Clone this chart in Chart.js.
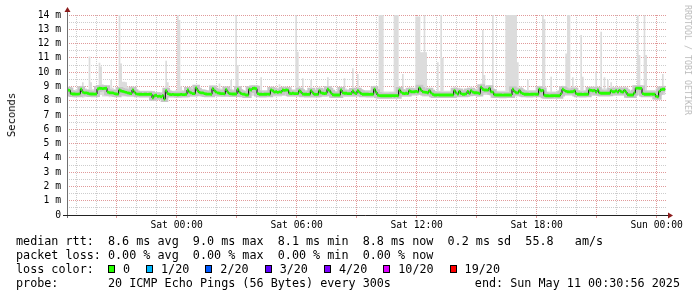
<!DOCTYPE html>
<html lang="en">
<head>
<meta charset="UTF-8">
<title>Smokeping</title>
<script src="https://cdn.jsdelivr.net/npm/chart.js"></script>
<style>
  body { margin: 0; background: #fff; width: 697px; height: 297px; overflow: hidden; position: relative;
         font-family: "DejaVu Sans Mono", monospace; color: #000; }
  #graph { position: absolute; left: 0; top: 0; }
  .ytitle { position: absolute; left: 11px; top: 115px; transform: translate(-50%, -50%) rotate(-90deg);
            font-size: 10.5px; white-space: nowrap; }
  .mark { position: absolute; left: 688px; top: 60px; transform: translate(-50%, -50%) rotate(90deg);
          font-size: 8.3px; color: #bbb; white-space: nowrap; }
  .leg { position: absolute; left: 16px; font-size: 11.75px; line-height: 14px; white-space: pre; }
  .box { display: inline-block; width: 5px; height: 6px; border: 1px solid #000; margin-right: 8px;
         position: relative; top: 0px; }
  .item { margin-right: 16px; }
</style>
</head>
<body>
<canvas id="graph" width="697" height="235"></canvas>
<div class="ytitle">Seconds</div>
<div class="mark">RRDTOOL / TOBI OETIKER</div>
<div class="leg" style="top:234px">median rtt:  8.6 ms avg  9.0 ms max  8.1 ms min  8.8 ms now  0.2 ms sd  55.8   am/s</div>
<div class="leg" style="top:248px">packet loss: 0.00 % avg  0.00 % max  0.00 % min  0.00 % now</div>
<div class="leg" style="top:262px" id="losscolor">loss color:  </div>
<div class="leg" style="top:276px">probe:       20 ICMP Echo Pings (56 Bytes) every 300s</div>
<div class="leg" style="top:276px; left:auto; right:17px">end: Sun May 11 00:30:56 2025</div>
<script>
// 5 minute steps, hours relative to Sat 00:00 (start Fri 18:30:56)
const startHour = -(5 + 29 / 60 + 4 / 3600);
const stepMin = 5;
const spanHours = 30;

// median rtt in ms, one row per hour
const median = [
  8.55,8.75,8.72,8.5,8.47,8.47,8.46,8.46,8.48,8.8,8.6,8.55,
  8.55,8.52,8.48,8.47,8.47,8.46,8.47,8.82,8.87,8.86,8.85,8.86,
  8.87,8.6,8.56,8.55,8.55,8.5,8.47,8.46,8.75,8.68,8.65,8.62,
  8.58,8.55,8.52,8.5,8.76,8.6,8.48,8.46,8.45,8.45,8.44,8.45,
  8.45,8.44,8.45,8.45,8.2,8.35,8.38,8.3,8.32,8.28,8.35,8.12,
  8.7,8.5,8.45,8.43,8.44,8.43,8.43,8.42,8.43,8.44,8.43,8.43,
  8.45,8.75,8.6,8.55,8.5,8.5,8.9,8.7,8.58,8.55,8.55,8.5,
  8.47,8.46,8.46,8.45,8.85,8.7,8.6,8.55,8.52,8.5,8.5,8.48,
  8.78,8.6,8.5,8.48,8.47,8.47,8.47,8.8,8.6,8.5,8.46,8.45,
  8.4,8.4,8.8,8.75,8.86,8.87,8.84,8.5,8.45,8.45,8.44,8.45,
  8.45,8.46,8.45,8.75,8.7,8.6,8.63,8.58,8.62,8.6,8.75,8.72,
  8.75,8.74,8.52,8.5,8.52,8.5,8.5,8.5,8.7,8.6,8.46,8.45,
  8.45,8.44,8.45,8.7,8.55,8.45,8.44,8.45,8.7,8.55,8.52,8.5,
  8.52,8.8,8.7,8.55,8.42,8.4,8.4,8.4,8.4,8.75,8.55,8.52,
  8.52,8.5,8.5,8.5,8.68,8.55,8.5,8.7,8.6,8.5,8.45,8.45,
  8.45,8.45,8.44,8.45,8.45,8.8,8.6,8.4,8.36,8.35,8.35,8.35,
  8.35,8.35,8.35,8.35,8.36,8.35,8.36,8.35,8.75,8.6,8.52,8.5,
  8.52,8.5,8.7,8.63,8.62,8.63,8.65,8.62,8.9,8.75,8.62,8.6,
  8.58,8.56,8.7,8.55,8.45,8.4,8.4,8.41,8.4,8.4,8.4,8.4,
  8.4,8.4,8.4,8.4,8.4,8.7,8.55,8.46,8.65,8.5,8.45,8.45,
  8.48,8.65,8.52,8.7,8.6,8.56,8.56,8.55,8.5,8.94,8.8,8.75,
  8.75,8.74,8.87,8.63,8.6,8.42,8.4,8.4,8.4,8.4,8.39,8.4,
  8.4,8.4,8.4,8.4,8.8,8.65,8.56,8.55,8.7,8.56,8.5,8.45,
  8.45,8.45,8.44,8.45,8.45,8.46,8.45,8.45,8.8,8.7,8.72,8.38,
  8.35,8.35,8.34,8.35,8.35,8.36,8.35,8.35,8.35,8.5,8.8,8.72,
  8.65,8.63,8.62,8.63,8.63,8.7,8.5,8.45,8.45,8.45,8.44,8.45,
  8.45,8.45,8.75,8.72,8.7,8.72,8.6,8.75,8.55,8.52,8.52,8.52,
  8.52,8.52,8.52,8.7,8.63,8.63,8.7,8.6,8.72,8.63,8.6,8.72,
  8.6,8.42,8.4,8.4,8.4,8.55,8.87,8.88,8.87,8.86,8.5,8.45,
  8.45,8.45,8.45,8.46,8.45,8.46,8.3,8.28,8.65,8.78,8.8,8.8
];

// slowest ping of each round (top of the smoke), ms
const smokeMax = [
  8.9,9.0,9.0,8.8,8.75,8.75,8.8,8.8,8.85,9.05,9.3,8.9,
  8.85,8.8,11.1,9.3,8.8,8.8,8.85,9.1,10.66,10.4,9.15,9.1,
  9.1,9.0,8.9,9.45,8.9,8.8,8.75,8.75,14,10.6,9.33,9.33,
  9.3,9.0,8.9,8.85,9.0,8.9,8.75,8.7,8.7,8.7,8.7,8.7,
  8.7,8.7,8.7,8.7,8.65,8.6,8.6,8.6,8.6,8.6,8.65,8.6,
  10.8,9.3,8.8,8.7,8.7,8.7,8.75,14,13.65,9.0,8.75,8.7,
  8.7,8.95,8.9,8.85,8.8,8.8,9.1,9.0,8.9,8.85,8.8,8.8,
  8.75,8.75,8.75,8.8,9.05,8.95,8.9,8.85,9.2,8.85,8.8,8.8,
  9.0,8.9,8.8,9.45,8.8,8.75,14,10.5,9.0,8.85,8.75,8.7,
  8.7,8.7,9.0,9.0,9.05,9.05,9.0,8.8,8.75,9.64,8.75,8.75,
  8.75,8.75,8.75,9.0,9.0,8.9,8.9,8.9,9.15,8.9,9.0,9.0,
  9.0,8.95,8.8,8.8,8.8,8.8,14,11.43,9.0,8.9,9.57,8.75,
  8.75,8.75,8.75,9.45,8.85,8.75,8.75,8.75,9.0,8.85,8.85,8.8,
  8.8,9.64,9.0,8.85,8.7,8.7,8.7,8.7,8.7,9.0,8.85,9.57,
  8.85,8.8,8.8,8.8,10.27,8.9,8.8,9.87,8.9,8.8,8.75,8.75,
  8.75,8.75,8.75,8.75,8.8,9.05,8.9,8.7,14,14,14,8.65,
  8.65,8.65,8.65,8.65,8.65,14,14,14,9.0,8.9,9.87,8.8,
  8.8,8.85,8.95,8.9,8.9,8.9,13.9,13.9,13.9,11.4,11.4,14,
  11.4,8.9,8.9,8.8,8.7,8.7,8.7,10.7,8.7,14,11.0,8.7,
  8.7,8.7,8.7,8.7,8.7,9.0,8.85,8.75,8.9,8.8,8.75,8.75,
  8.75,8.9,8.8,9.0,8.9,8.85,8.85,8.8,8.8,9.2,12.95,9.8,
  9.0,9.0,9.1,8.9,14,8.7,8.7,8.7,8.7,8.7,8.7,8.7,
  14,14,14,14,14,14,14,10.7,8.9,9.0,8.85,8.8,
  8.75,9.45,8.75,8.75,8.75,8.75,8.75,8.75,9.05,9.0,14,13.7,
  8.7,8.65,8.65,9.67,8.65,8.65,8.65,8.65,8.65,8.8,9.05,9.0,
  11.3,14,14,8.95,9.64,9.0,8.8,8.75,8.75,12.6,9.67,8.75,
  8.75,8.75,9.0,9.0,9.0,9.0,10.03,9.0,8.85,12.83,8.85,9.64,
  8.85,9.45,8.85,9.3,9.0,8.95,9.0,8.9,9.0,8.95,8.9,9.0,
  8.9,8.7,8.7,8.7,8.7,8.85,9.1,14,11.2,9.1,8.8,14,
  11.2,8.75,8.75,8.75,8.75,8.75,8.6,8.6,8.9,9.0,9.87,9.05
];

// fastest ping of each round (bottom of the smoke), ms
const smokeMin = [
  8.35,8.35,8.3,8.3,8.3,8.25,8.25,8.3,8.3,8.3,8.2,8.25,
  8.3,8.3,8.3,8.3,8.3,8.3,8.3,8.35,8.4,8.4,8.3,8.3,
  8.3,8.3,8.25,8.3,8.3,8.3,8.3,8.3,8.35,8.35,8.3,8.3,
  8.3,8.3,8.3,8.3,8.35,8.35,8.3,8.3,8.3,8.3,8.3,8.3,
  8.3,8.3,8.3,8.25,8.05,8.1,8.15,8.1,8.1,8.1,8.1,8.0,
  8.25,8.25,8.3,8.3,8.3,8.3,8.3,8.3,8.3,8.3,8.3,8.3,
  8.3,8.35,8.35,8.3,8.3,8.3,8.35,8.35,8.3,8.3,8.3,8.3,
  8.3,8.3,8.3,8.3,8.35,8.35,8.3,8.3,8.3,8.3,8.3,8.3,
  8.35,8.35,8.3,8.3,8.3,8.3,8.3,8.35,8.35,8.3,8.3,8.3,
  8.25,8.25,8.3,8.35,8.35,8.35,8.35,8.3,8.3,8.3,8.3,8.3,
  8.3,8.3,8.3,8.35,8.35,8.3,8.3,8.3,8.3,8.3,8.35,8.35,
  8.35,8.3,8.3,8.3,8.3,8.3,8.3,8.3,8.35,8.3,8.3,8.3,
  8.3,8.3,8.3,8.3,8.3,8.3,8.3,8.3,8.3,8.3,8.3,8.3,
  8.3,8.35,8.35,8.3,8.25,8.25,8.25,8.25,8.25,8.3,8.3,8.3,
  8.3,8.3,8.3,8.3,8.3,8.3,8.3,8.35,8.3,8.3,8.3,8.3,
  8.3,8.3,8.3,8.3,8.3,8.35,8.3,8.2,8.15,8.15,8.15,8.15,
  8.15,8.15,8.15,8.2,8.2,8.2,8.2,8.2,8.3,8.3,8.3,8.3,
  8.3,8.3,8.3,8.35,8.35,8.35,8.35,8.35,8.4,8.35,8.3,8.3,
  8.3,8.3,8.3,8.3,8.25,8.2,8.2,8.2,8.25,8.25,8.25,8.25,
  8.25,8.25,8.25,8.25,8.25,8.3,8.3,8.3,8.3,8.3,8.3,8.3,
  8.3,8.3,8.3,8.35,8.35,8.35,8.35,8.3,8.3,8.4,8.4,8.4,
  8.4,8.4,8.4,8.35,8.3,8.2,8.2,8.25,8.25,8.25,8.25,8.25,
  8.25,8.25,8.25,8.25,8.3,8.3,8.3,8.3,8.3,8.3,8.3,8.3,
  8.3,8.3,8.3,8.3,8.3,8.3,8.3,8.3,8.35,8.35,8.35,8.2,
  8.15,8.15,8.15,8.15,8.2,8.2,8.2,8.2,8.2,8.3,8.35,8.35,
  8.35,8.35,8.35,8.35,8.35,8.35,8.3,8.3,8.3,8.3,8.3,8.3,
  8.3,8.3,8.35,8.35,8.35,8.35,8.35,8.35,8.3,8.3,8.3,8.3,
  8.3,8.3,8.3,8.35,8.35,8.35,8.35,8.35,8.35,8.35,8.35,8.35,
  8.3,8.25,8.25,8.25,8.25,8.3,8.4,8.4,8.4,8.4,8.3,8.3,
  8.3,8.3,8.3,8.3,8.3,8.3,8.15,8.1,8.3,8.35,8.4,8.4
];

const yMax = 14;
const timeTicks = [0, 6, 12, 18, 24];
const timeTickLabels = ['Sat 00:00', 'Sat 06:00', 'Sat 12:00', 'Sat 18:00', 'Sun 00:00'];

const lossLabels = ['0', '1/20', '2/20', '3/20', '4/20', '10/20', '19/20'];
const lossColors = ['#26ff00', '#00b8ff', '#0059ff', '#5e00ff', '#7e00ff', '#dd00ff', '#ff0000'];

var lc = document.getElementById('losscolor');
for (var i = 0; i < lossLabels.length; i++) {
    lc.innerHTML += '<span class="box" style="background:' + lossColors[i] + '"></span><span class="item">' + lossLabels[i] + '</span>';
}

const times = median.map((v, i) => startHour + i * stepMin / 60);
const pts = arr => arr.map((v, i) => ({ x: times[i], y: v }));
const band = 0.1; // half height of the median bar

// one grid line per full hour
const hourTicks = [];
for (let h = Math.ceil(startHour); h <= startHour + spanHours; h++) hourTicks.push({ value: h });

const majorGrid = '#e09a9a';
const minorGrid = '#cdcdcd';
const tickFont = { family: 'DejaVu Sans Mono', size: 9.7 };

const axes = {
    id: 'axes',
    afterDraw(chart) {
        const { ctx, chartArea: a } = chart;
        ctx.save();
        ctx.lineWidth = 1;
        ctx.strokeStyle = '#707070';
        ctx.beginPath();
        ctx.moveTo(a.left + 0.5, a.bottom + 3);
        ctx.lineTo(a.left + 0.5, a.top - 3);
        ctx.stroke();
        ctx.strokeStyle = '#222';
        ctx.beginPath();
        ctx.moveTo(a.left - 4, a.bottom + 0.5);
        ctx.lineTo(a.right + 1, a.bottom + 0.5);
        ctx.stroke();
        ctx.fillStyle = '#8c1c1c';
        ctx.beginPath();
        ctx.moveTo(a.left + 0.5, a.top - 8);
        ctx.lineTo(a.left - 2.5, a.top - 3);
        ctx.lineTo(a.left + 3.5, a.top - 3);
        ctx.fill();
        ctx.beginPath();
        ctx.moveTo(a.right + 6, a.bottom + 0.5);
        ctx.lineTo(a.right + 1, a.bottom - 2.5);
        ctx.lineTo(a.right + 1, a.bottom + 3.5);
        ctx.fill();
        ctx.restore();
    }
};

new Chart(document.getElementById('graph'), {
    type: 'line',
    data: {
        datasets: [
            { data: pts(smokeMax), fill: 1, backgroundColor: '#dcdcdc', borderWidth: 0, stepped: 'after', order: 10 },
            { data: pts(smokeMin), fill: false, borderWidth: 0, stepped: 'after', order: 11 },
            { data: pts(median), fill: false, borderColor: '#000', borderWidth: 1, stepped: 'after', order: 5 },
            { data: pts(median.map(v => v + band)), fill: 4, backgroundColor: '#26ff00', borderWidth: 0, stepped: 'after', order: 2 },
            { data: pts(median.map(v => v - band)), fill: false, borderWidth: 0, stepped: 'after', order: 3 },
            { data: pts(median), fill: false, borderColor: '#c6c6c6', borderWidth: 6, stepped: 'after', order: 7 }
        ]
    },
    options: {
        responsive: false,
        animation: false,
        events: [],
        layout: { padding: { left: 0, right: 30, top: 15, bottom: 0 } },
        elements: { point: { radius: 0 } },
        plugins: { legend: { display: false }, tooltip: { enabled: false } },
        scales: {
            x: {
                type: 'linear',
                bounds: 'data',
                min: startHour,
                max: startHour + spanHours,
                afterFit: s => { s.height = 20; },
                afterBuildTicks: s => { s.ticks = hourTicks.map(t => ({ value: t.value })); },
                border: { display: false, dash: [1, 1] },
                grid: {
                    color: c => (c.tick.value % 3 === 0 ? majorGrid : minorGrid),
                    tickColor: c => (c.tick.value % 3 === 0 ? majorGrid : 'rgba(0,0,0,0)'),
                    tickLength: 3
                },
                ticks: {
                    autoSkip: false,
                    maxRotation: 0,
                    minRotation: 0,
                    padding: 2,
                    color: '#000',
                    font: tickFont,
                    callback: v => {
                        const k = timeTicks.indexOf(v);
                        return k >= 0 ? timeTickLabels[k] : '';
                    }
                }
            },
            y: {
                min: 0,
                max: yMax,
                afterFit: s => { s.width = 67; },
                border: { display: false, dash: [1, 1] },
                grid: {
                    color: c => (c.tick.value % 1 === 0 ? majorGrid : minorGrid),
                    drawTicks: false
                },
                ticks: {
                    stepSize: 0.5,
                    autoSkip: false,
                    maxTicksLimit: 100,
                    padding: 6,
                    color: '#000',
                    font: tickFont,
                    callback: v => (v % 1 !== 0 ? '' : (v === 0 ? '0' : v + ' m'))
                }
            }
        }
    },
    plugins: [axes]
});
</script>
</body>
</html>
